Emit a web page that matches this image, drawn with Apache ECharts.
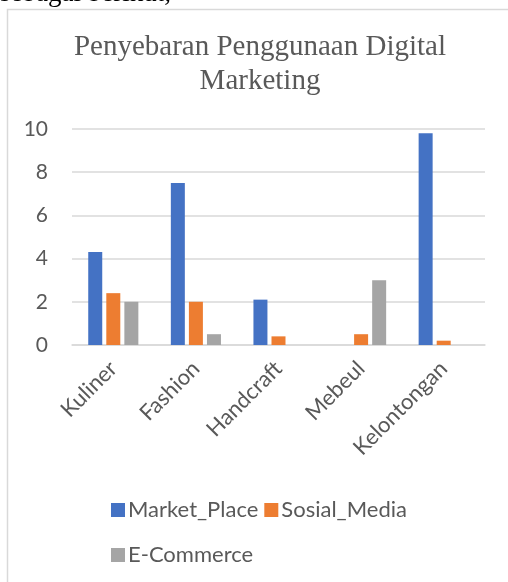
<!DOCTYPE html>
<html>
<head>
<meta charset="utf-8">
<script src="https://cdn.jsdelivr.net/npm/echarts@6/dist/echarts.min.js"></script>
<style>
  html, body { margin: 0; padding: 0; background: #fff; }
  #chart { width: 508px; height: 582px; }
</style>
</head>
<body>
<div id="chart"></div>
<script>
const categories = ['Kuliner', 'Fashion', 'Handcraft', 'Mebeul', 'Kelontongan'];
const marketPlace = [4.3, 7.5, 2.1, 0, 9.8];
const sosialMedia = [2.4, 2.0, 0.4, 0.5, 0.2];
const eCommerce = [2.0, 0.5, 0, 3.0, 0];
const yTicks = [0, 2, 4, 6, 8, 10];

const chart = echarts.init(document.getElementById('chart'));

const textColor = '#595959';
const sans = 'Lato, "Open Sans", sans-serif';

const option = {
  backgroundColor: '#fff',
  animation: false,
  graphic: [
    {
      type: 'text',
      left: 0,
      top: -20,
      style: { text: 'sebagai berikut,', font: '27px "Liberation Serif", serif', fill: '#000' }
    },
    {
      type: 'rect',
      shape: { x: 7.5, y: 9.5, width: 540, height: 620 },
      style: { fill: 'none', stroke: '#d9d9d9', lineWidth: 1.5 },
      z: -1
    },
    {
      type: 'text',
      x: 260,
      y: 30,
      style: {
        text: 'Penyebaran Penggunaan Digital\nMarketing',
        font: '29px "Liberation Serif", serif',
        fill: textColor,
        align: 'center',
        lineHeight: 34
      }
    }
  ],
  legend: [
    {
      data: ['Market_Place', 'Sosial_Media'],
      left: 106,
      top: 494,
      itemWidth: 14,
      itemHeight: 14,
      itemGap: 6,
      icon: 'rect',
      textStyle: { color: textColor, fontSize: 22, fontFamily: sans, padding: [0, 0, 0, -2] }
    },
    {
      data: ['E-Commerce'],
      left: 106,
      top: 539,
      itemWidth: 14,
      itemHeight: 14,
      icon: 'rect',
      textStyle: { color: textColor, fontSize: 22, fontFamily: sans, padding: [0, 0, 0, -2] }
    }
  ],
  grid: { left: 72, right: 23, top: 129, bottom: 237 },
  xAxis: {
    type: 'category',
    data: categories,
    axisLine: { lineStyle: { color: '#d9d9d9', width: 1.5 } },
    axisTick: { show: false },
    axisLabel: { rotate: 45, margin: 20, color: textColor, fontSize: 22, fontFamily: sans, interval: 0 }
  },
  yAxis: {
    type: 'value',
    min: yTicks[0],
    max: yTicks[yTicks.length - 1],
    interval: 2,
    axisLine: { show: false },
    axisTick: { show: false },
    axisLabel: { color: textColor, fontSize: 21, fontFamily: sans, margin: 24 },
    splitLine: { lineStyle: { color: '#d9d9d9', width: 1.5 } }
  },
  series: [
    { name: 'Market_Place', type: 'bar', data: marketPlace, barWidth: 14, barGap: '29%', itemStyle: { color: '#4472C4' } },
    { name: 'Sosial_Media', type: 'bar', data: sosialMedia, barWidth: 14, itemStyle: { color: '#ED7D31' } },
    { name: 'E-Commerce', type: 'bar', data: eCommerce, barWidth: 14, itemStyle: { color: '#A5A5A5' } }
  ]
};

chart.setOption(option);
</script>
</body>
</html>
